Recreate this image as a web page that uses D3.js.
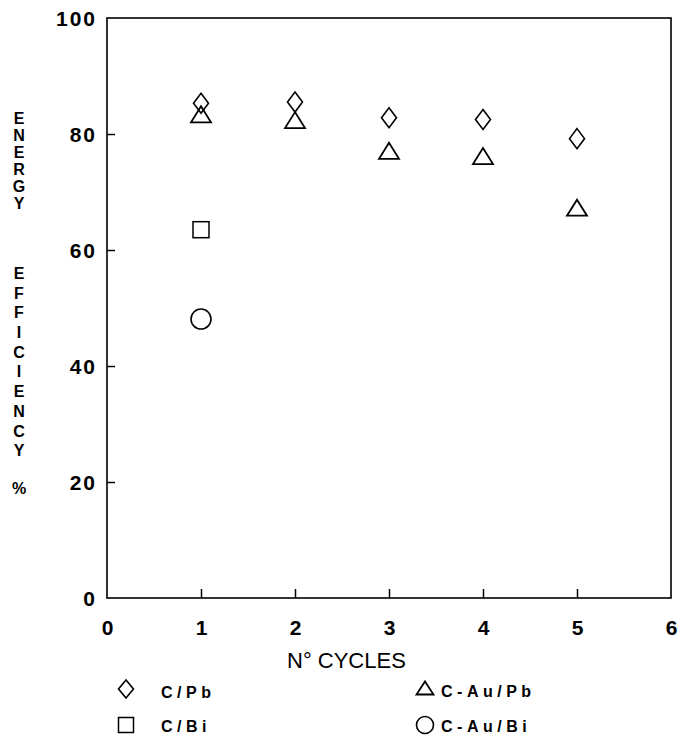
<!DOCTYPE html>
<html>
<head>
<meta charset="utf-8">
<script src="https://cdn.jsdelivr.net/npm/d3@7"></script>
<style>
  body { margin: 0; background: #fff; }
  svg { display: block; }
</style>
</head>
<body>
<svg id="chart"></svg>
<script>
// data
const cycles = [1, 2, 3, 4, 5];
const cPb = [85.3, 85.5, 82.8, 82.5, 79.2];      // diamonds
const cAuPb = [83.4, 82.4, 77.1, 76.2, 67.3];    // triangles
const cBiCycles = [1];
const cBi = [63.5];                              // square
const cAuBi = [48.1];                            // circle
const xTicks = [0, 1, 2, 3, 4, 5, 6];
const yTicks = [0, 20, 40, 60, 80, 100];

const width = 678, height = 737;
const svg = d3.select("#chart").attr("width", width).attr("height", height);

const x = d3.scaleLinear().domain([0, 6]).range([107, 671]);
const y = d3.scaleLinear().domain([0, 100]).range([598, 18]);

const boldFont = "'Liberation Sans', Arial, sans-serif";

// frame
svg.append("rect")
  .attr("x", x(0)).attr("y", y(100))
  .attr("width", x(6) - x(0)).attr("height", y(0) - y(100))
  .attr("fill", "none").attr("stroke", "#000").attr("stroke-width", 1.6);

// y axis (ticks pointing inward)
const yAxis = svg.append("g")
  .attr("transform", `translate(${x(0)},0)`)
  .call(d3.axisLeft(y).tickValues(yTicks).tickFormat(d3.format("d"))
    .tickSize(-8).tickSizeOuter(0).tickPadding(10));
yAxis.select(".domain").remove();
yAxis.selectAll(".tick line").attr("stroke", "#000").attr("stroke-width", 1.5)
  .attr("display", d => (d === 0 || d === 100) ? "none" : null);
yAxis.selectAll(".tick text")
  .attr("font-family", boldFont).attr("font-weight", "bold")
  .attr("font-size", 21).attr("letter-spacing", 2).attr("fill", "#000")
  .attr("dy", "0.36em");

// x axis
const xAxis = svg.append("g")
  .attr("transform", `translate(0,${y(0)})`)
  .call(d3.axisBottom(x).tickValues(xTicks).tickFormat(d3.format("d"))
    .tickSize(-9).tickSizeOuter(0).tickPadding(22));
xAxis.select(".domain").remove();
xAxis.selectAll(".tick line").attr("stroke", "#000").attr("stroke-width", 1.5)
  .attr("display", d => (d === 0 || d === 6) ? "none" : null);
xAxis.selectAll(".tick text")
  .attr("font-family", boldFont).attr("font-weight", "bold")
  .attr("font-size", 21).attr("fill", "#000")
  .attr("dy", "0.71em");

// x axis title
svg.append("text")
  .attr("x", 287).attr("y", 668)
  .attr("font-family", "'Liberation Sans', Arial, sans-serif")
  .attr("font-size", 22)
  .text("N° CYCLES");

// vertical stacked y title, letters upright
function stackWord(word, topY, spacing) {
  svg.append("text")
    .attr("x", 19).attr("y", topY)
    .style("writing-mode", "vertical-rl")
    .style("text-orientation", "upright")
    .attr("font-family", boldFont).attr("font-weight", "bold")
    .attr("font-size", 16).attr("letter-spacing", spacing)
    .text(word);
}
stackWord("ENERGY", 110, 0);
stackWord("EFFICIENCY", 265, 2.7);
stackWord("%", 480, 0);

// marker shapes
function diamond(g, cx, cy, w, h) {
  g.append("path")
    .attr("d", `M${cx},${cy - h / 2}L${cx + w / 2},${cy}L${cx},${cy + h / 2}L${cx - w / 2},${cy}Z`)
    .attr("fill", "none").attr("stroke", "#000").attr("stroke-width", 1.6);
}
function triangle(g, cx, cy, w, h) {
  g.append("path")
    .attr("d", `M${cx},${cy - h / 2}L${cx + w / 2},${cy + h / 2}L${cx - w / 2},${cy + h / 2}Z`)
    .attr("fill", "none").attr("stroke", "#000").attr("stroke-width", 1.8);
}
function square(g, cx, cy, s) {
  g.append("rect")
    .attr("x", cx - s / 2).attr("y", cy - s / 2).attr("width", s).attr("height", s)
    .attr("fill", "none").attr("stroke", "#000").attr("stroke-width", 1.5);
}
function circle(g, cx, cy, r) {
  g.append("circle")
    .attr("cx", cx).attr("cy", cy).attr("r", r)
    .attr("fill", "none").attr("stroke", "#000").attr("stroke-width", 1.6);
}

const marks = svg.append("g");
cycles.forEach((c, i) => triangle(marks, x(c), y(cAuPb[i]), 20, 16));
cycles.forEach((c, i) => diamond(marks, x(c), y(cPb[i]), 15, 20));
cBiCycles.forEach((c, i) => square(marks, x(c), y(cBi[i]), 16));
cBiCycles.forEach((c, i) => circle(marks, x(c), y(cAuBi[i]), 10));

// legend
const legend = svg.append("g");
const legendText = (lx, ly, t) => legend.append("text")
  .attr("x", lx).attr("y", ly)
  .attr("font-family", boldFont).attr("font-weight", "bold")
  .attr("font-size", 16).attr("letter-spacing", 4.5)
  .text(t);
diamond(legend, 126, 689, 15, 18);
legendText(161, 698, "C/Pb");
square(legend, 126, 725, 15);
legendText(161, 732, "C/Bi");
triangle(legend, 425, 688, 17, 13);
legendText(441, 697, "C-Au/Pb");
circle(legend, 425, 725, 8.5);
legendText(441, 732, "C-Au/Bi");
</script>
</body>
</html>
